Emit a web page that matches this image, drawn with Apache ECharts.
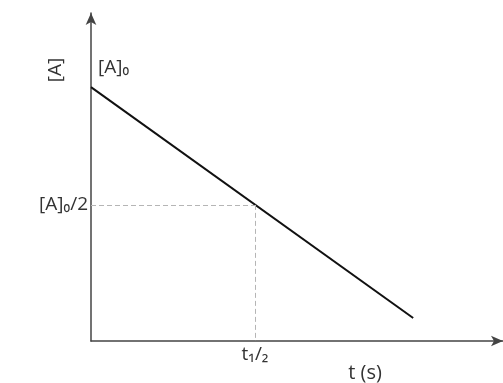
<!DOCTYPE html>
<html>
<head>
<meta charset="utf-8">
<script src="https://cdn.jsdelivr.net/npm/echarts@6/dist/echarts.min.js"></script>
<style>
  html, body { margin: 0; padding: 0; background: #fff; }
  #main { width: 503px; height: 383px; }
</style>
</head>
<body>
<div id="main"></div>
<script>
// straight line [A] vs t (axis units 0..100)
const tValues = [0, 78.2];
const aValues = [77.4, 7.0];
// half-life point
const tHalf = 39.8;
const aHalf = 41.5;
const startLabel = "[A]₀";
const halfLabel = "[A]₀/2";
const tHalfLabel = "t₁/₂";

const myChart = echarts.init(document.getElementById("main"));

const textColor = "#333";
const font = "'Open Sans', 'Noto Sans', sans-serif";

const option = {
  animation: false,
  grid: { left: 91, right: 0, top: 13, bottom: 42 },
  xAxis: {
    type: "value",
    min: 0,
    max: 100,
    name: "t (s)",
    nameLocation: "end",
    nameGap: -138,
    nameTextStyle: {
      color: textColor, fontSize: 20, fontFamily: font,
      align: "center", verticalAlign: "top", padding: [22, 0, 0, 0]
    },
    axisLine: {
      lineStyle: { color: "#444", width: 1.5 },
      symbol: ["none", "arrow"],
      symbolSize: [8, 12]
    },
    axisTick: { show: false },
    splitLine: { show: false },
    axisLabel: {
      customValues: [tHalf],
      formatter: () => tHalfLabel,
      color: textColor, fontSize: 19, fontFamily: font, margin: 4
    }
  },
  yAxis: {
    type: "value",
    min: 0,
    max: 100,
    name: "[A]",
    nameLocation: "end",
    nameRotate: 90,
    nameGap: -57,
    nameTextStyle: {
      color: textColor, fontSize: 19, fontFamily: font,
      align: "center", verticalAlign: "bottom", padding: [0, 0, 26, 0]
    },
    axisLine: {
      lineStyle: { color: "#444", width: 1.5 },
      symbol: ["none", "arrow"],
      symbolSize: [8, 12]
    },
    axisTick: { show: false },
    splitLine: { show: false },
    axisLabel: {
      customValues: [aHalf],
      formatter: () => halfLabel,
      color: textColor, fontSize: 19, fontFamily: font, margin: 3
    }
  },
  series: [
    {
      type: "line",
      data: tValues.map((t, i) => [t, aValues[i]]),
      symbol: "none",
      lineStyle: { color: "#111", width: 2 },
      markLine: {
        silent: true,
        symbol: "none",
        label: { show: false },
        lineStyle: { color: "#b5b5b5", type: [5, 3], width: 1 },
        data: [
          [{ coord: [0, aHalf] }, { coord: [tHalf, aHalf] }],
          [{ coord: [tHalf, aHalf] }, { coord: [tHalf, 0] }]
        ]
      },
      markPoint: {
        symbol: "circle",
        symbolSize: 0,
        data: [{ coord: [tValues[0], aValues[0]] }],
        label: {
          show: true,
          formatter: startLabel,
          position: [7, -29],
          color: textColor, fontSize: 19, fontFamily: font
        }
      }
    }
  ]
};

myChart.setOption(option);
</script>
</body>
</html>
